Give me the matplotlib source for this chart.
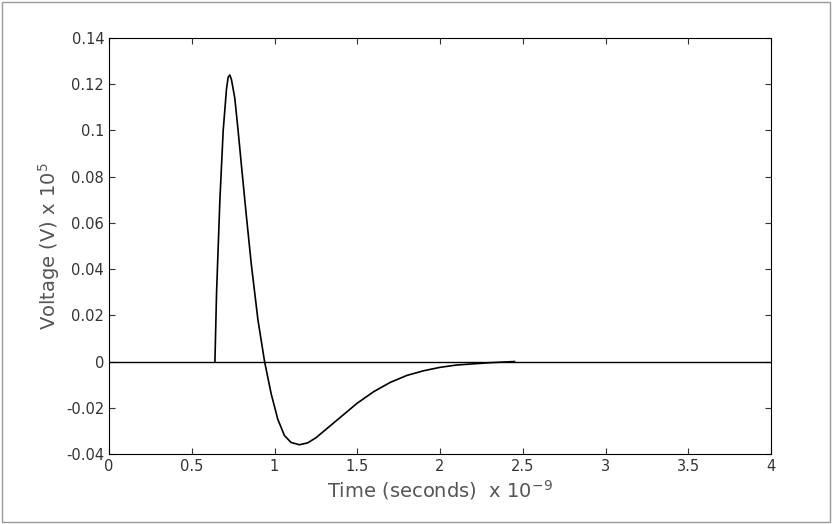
import matplotlib
matplotlib.use("Agg")
import matplotlib.pyplot as plt

t = [0.64,0.65,0.67,0.69,0.71,0.72,0.73,0.74,0.76,0.78,0.80,0.83,0.86,0.90,0.94,0.98,1.02,1.06,1.10,1.15,1.20,1.25,1.30,1.40,1.50,1.60,1.70,1.80,1.90,2.00,2.10,2.20,2.30,2.45]
v = [0,0.03,0.07,0.10,0.118,0.123,0.124,0.122,0.114,0.10,0.085,0.063,0.042,0.018,0.0,-0.014,-0.025,-0.032,-0.035,-0.036,-0.0352,-0.033,-0.030,-0.024,-0.018,-0.013,-0.009,-0.006,-0.004,-0.0025,-0.0015,-0.001,-0.0005,0]
xticks = [0,0.5,1,1.5,2,2.5,3,3.5,4]
xticklabels = ["0","0.5","1","1.5","2","2.5","3","3.5","4"]
yticks = [-0.04,-0.02,0,0.02,0.04,0.06,0.08,0.1,0.12,0.14]
yticklabels = ["-0.04","-0.02","0","0.02","0.04","0.06","0.08","0.1","0.12","0.14"]

fig = plt.figure(figsize=(8.32,5.24), dpi=100)
ax = fig.add_axes([109/832, 1-454/524, 662/832, 416/524])
ax.plot(t, v, color="black", lw=1.2)
ax.axhline(0, color="black", lw=1)
ax.set_xlim(0,4); ax.set_ylim(-0.04,0.14)
ax.set_xticks(xticks); ax.set_xticklabels(xticklabels)
ax.set_yticks(yticks); ax.set_yticklabels(yticklabels)
ax.tick_params(direction="in", labelsize=10.5, colors="#333333", top=True, right=True, length=4)
for s in ax.spines.values(): s.set_linewidth(0.8)
ax.set_xlabel(r"Time (seconds)  x 10$^{-9}$", fontsize=14, color="#555555", labelpad=3)
ax.set_ylabel(r"Voltage (V) x 10$^{5}$", fontsize=14, color="#555555", labelpad=3)
fig.patches.append(matplotlib.patches.Rectangle((0.002,0.003),0.996,0.994, transform=fig.transFigure, fill=False, edgecolor="#999999", lw=1))
fig.savefig("out.png", dpi=100)
